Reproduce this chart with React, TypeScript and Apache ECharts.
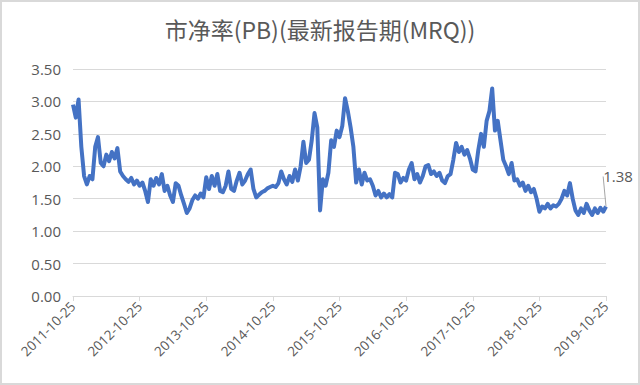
import React, { useEffect, useRef } from "react";
import * as echarts from "echarts";

const TITLE = "市净率(PB)(最新报告期(MRQ))";

const START_YEAR = 2011;
const END_YEAR = 2019;

// semi-monthly sample dates (10th and 25th) from 2011-10-25 to 2019-10-25
const dates: string[] = (() => {
  const out: string[] = [];
  for (let y = START_YEAR; y <= END_YEAR; y++) {
    for (let m = 1; m <= 12; m++) {
      for (const d of [10, 25]) {
        const s = `${y}-${String(m).padStart(2, "0")}-${d}`;
        if (s >= "2011-10-25" && s <= "2019-10-25") out.push(s);
      }
    }
  }
  return out;
})();

const pb2012: number[] = [
  2.95, 2.75, 3.03, 2.3, 1.85, 1.72, 1.85, 1.8, 2.3, 2.45, 2.05, 2.0, 2.18, 2.08, 2.22, 2.12, 2.28, 1.92, 1.85, 1.8, 1.76, 1.82, 1.72, 1.78,
];
const pb2013: number[] = [
  1.7, 1.75, 1.62, 1.45, 1.8, 1.7, 1.82, 1.72, 1.88, 1.62, 1.7, 1.55, 1.45, 1.74, 1.7, 1.55, 1.42, 1.28, 1.35, 1.48, 1.55, 1.5, 1.58, 1.52,
];
const pb2014: number[] = [
  1.83, 1.65, 1.85, 1.7, 1.88, 1.62, 1.6, 1.7, 1.92, 1.65, 1.62, 1.78, 1.9, 1.72, 1.78, 1.88, 1.95, 1.65, 1.52, 1.56, 1.6, 1.62, 1.66, 1.68,
];
const pb2015: number[] = [
  1.7, 1.68, 1.74, 1.92, 1.8, 1.72, 1.85, 1.76, 1.95, 1.78, 2.0, 2.38, 2.05, 2.1, 2.4, 2.82, 2.6, 1.32, 1.8, 1.7, 1.9, 2.4, 2.3, 2.55,
];
const pb2016: number[] = [
  2.45, 2.62, 3.05, 2.85, 2.6, 2.3, 1.75, 1.95, 1.72, 1.9, 1.78, 1.8, 1.7, 1.55, 1.62, 1.52, 1.58, 1.52, 1.57, 1.52, 1.9, 1.88, 1.75, 1.82,
];
const pb2017: number[] = [
  1.78, 1.95, 2.05, 1.8, 1.88, 1.75, 1.85, 2.0, 2.02, 1.88, 1.92, 1.85, 1.9, 1.78, 1.74, 1.85, 1.88, 2.1, 2.36, 2.22, 2.3, 2.18, 2.25, 2.12,
];
const pb2018: number[] = [
  1.95, 1.92, 2.25, 2.5, 2.3, 2.7, 2.85, 3.2, 2.55, 2.7, 2.4, 2.1, 2.0, 1.88, 2.05, 1.78, 1.8, 1.7, 1.75, 1.62, 1.7, 1.6, 1.65, 1.5,
];
const pb2019: number[] = [
  1.3, 1.38, 1.35, 1.42, 1.35, 1.4, 1.38, 1.42, 1.5, 1.62, 1.55, 1.74, 1.5, 1.32, 1.25, 1.35, 1.28, 1.42, 1.32, 1.25, 1.35, 1.28, 1.36, 1.3, 1.38,
];

const pbValues: number[] = [
  ...pb2012, ...pb2013, ...pb2014, ...pb2015, ...pb2016, ...pb2017, ...pb2018, ...pb2019,
];

const yTicks = [0, 0.5, 1, 1.5, 2, 2.5, 3, 3.5];

export default function App() {
  const ref = useRef<HTMLDivElement>(null);

  useEffect(() => {
    document.body.style.margin = "0";
    if (!ref.current) return;
    const chart = echarts.init(ref.current, undefined, { renderer: "svg" });
    const isYearTick = (_i: number, v: string) => v.endsWith("-10-25");
    const lastIdx = pbValues.length - 1;
    const seriesData = pbValues.map((v, i) =>
      i === lastIdx
        ? {
            value: v,
            label: {
              show: true,
              formatter: (p: any) => Number(p.value).toFixed(2),
              color: "#595959",
              fontSize: 15,
              fontFamily: "Open Sans, Noto Sans, sans-serif",
              position: "top",
            },
            labelLine: { show: true, lineStyle: { color: "#a6a6a6", width: 1 } },
          }
        : v
    );
    chart.setOption({
      animation: false,
      backgroundColor: "#ffffff",
      graphic: [
        {
          type: "rect",
          shape: { x: 1, y: 1, width: 638, height: 383 },
          style: { fill: "none", stroke: "#d9d9d9", lineWidth: 2 },
          silent: true,
        },
      ],
      title: {
        text: TITLE,
        left: "center",
        top: 12,
        textStyle: {
          fontFamily: "Noto Sans CJK SC, sans-serif",
          fontSize: 23,
          fontWeight: "normal",
          color: "#595959",
        },
      },
      grid: { left: 73, right: 34, top: 69, bottom: 89, containLabel: false },
      xAxis: {
        type: "category",
        data: dates,
        boundaryGap: false,
        axisLine: { lineStyle: { color: "#d9d9d9", width: 1 } },
        axisTick: { show: true, interval: isYearTick, length: 5, lineStyle: { color: "#d9d9d9" } },
        axisLabel: {
          interval: isYearTick,
          rotate: 45,
          color: "#595959",
          fontSize: 13.5,
          fontFamily: "Open Sans, Noto Sans, sans-serif",
          margin: 8,
        },
        splitLine: { show: false },
      },
      yAxis: {
        type: "value",
        min: yTicks[0],
        max: yTicks[yTicks.length - 1],
        interval: 0.5,
        axisLine: { show: false },
        axisTick: { show: false },
        axisLabel: {
          formatter: (v: number) => v.toFixed(2),
          color: "#595959",
          fontSize: 15,
          fontFamily: "Open Sans, Noto Sans, sans-serif",
          margin: 12,
        },
        splitLine: { lineStyle: { color: "#d9d9d9", width: 1 } },
      },
      series: [
        {
          type: "line",
          data: seriesData,
          symbol: "circle",
          symbolSize: 0,
          showSymbol: true,
          showAllSymbol: true,
          lineStyle: { color: "#4472c4", width: 4, join: "round" },
          itemStyle: { color: "#4472c4" },
          labelLayout: (params: any) => {
            if (params.dataIndex !== lastIdx) return {};
            const cx = params.rect.x + params.rect.width / 2;
            const cy = params.rect.y + params.rect.height / 2;
            return {
              x: cx + 12,
              y: cy - 30,
              align: "center",
              verticalAlign: "middle",
              labelLinePoints: [
                [cx, cy - 2],
                [cx + 9, cy - 20],
              ],
            };
          },
        },
      ],
    });
    return () => chart.dispose();
  }, []);

  return <div ref={ref} style={{ width: 640, height: 385 }} />;
}
